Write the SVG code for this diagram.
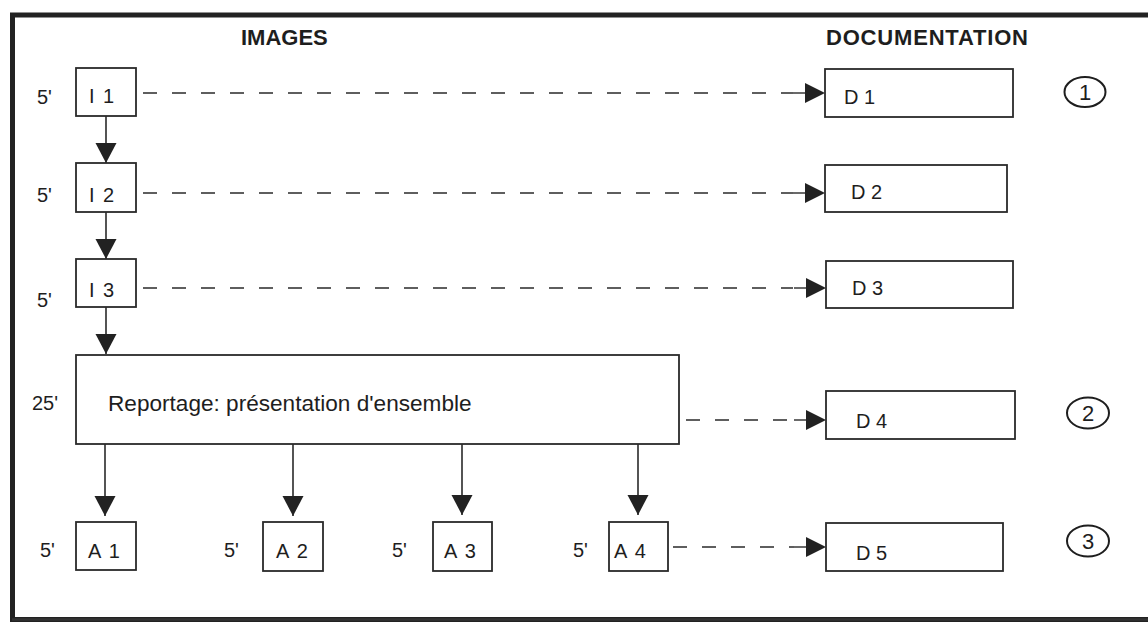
<svg xmlns="http://www.w3.org/2000/svg" width="1148" height="622" viewBox="0 0 1148 622">
<style>
.box{fill:#fff;stroke:#2a2a2a;stroke-width:1.8}
.t{font-family:"Liberation Sans",Arial,sans-serif;font-size:20px;fill:#1e1e1e}
.ls{letter-spacing:1.5px}
.h{font-family:"Liberation Sans",Arial,sans-serif;font-size:22px;font-weight:bold;fill:#1e1e1e}
.solid{stroke:#2a2a2a;stroke-width:1.6;fill:none}
.dash{stroke:#2a2a2a;stroke-width:1.4;fill:none;stroke-dasharray:14 15}
.circ{fill:none;stroke:#1e1e1e;stroke-width:2}
.cn{font-family:"Liberation Sans",Arial,sans-serif;font-size:22px;fill:#1e1e1e;text-anchor:middle}
</style>
<defs>
<marker id="down" markerUnits="userSpaceOnUse" viewBox="-21 -11 22 22" markerWidth="22" markerHeight="22" refX="0" refY="0" orient="auto" overflow="visible">
<path d="M-20,-10.5 L0,0 L-20,10.5 Z" fill="#222"/>
</marker>
<marker id="right" markerUnits="userSpaceOnUse" viewBox="-34 -11 35 22" markerWidth="35" markerHeight="22" refX="0" refY="0" orient="0" overflow="visible">
<path d="M-32,0 H-19" stroke="#2a2a2a" stroke-width="1.4"/>
<path d="M-20,-10 L0,0 L-20,10 Z" fill="#222"/>
</marker>
</defs>
<rect width="1148" height="622" fill="#fff"/>
<path d="M1148,15 H12.5 V619.5 H1148" fill="none" stroke="#222" stroke-width="5"/>
<path d="M12,619.5 H1148" stroke="#333" stroke-width="2.5"/>

<g id="headers">
<text class="h" x="241" y="45">IMAGES</text>
<text class="h" x="826" y="45" textLength="202">DOCUMENTATION</text>
</g>

<g id="connectors">
<line class="solid" x1="106" y1="116" x2="106" y2="163" marker-end="url(#down)"/>
<line class="solid" x1="106" y1="212" x2="106" y2="259" marker-end="url(#down)"/>
<line class="solid" x1="106" y1="307" x2="106" y2="354" marker-end="url(#down)"/>
<line class="solid" x1="105" y1="444" x2="105" y2="516" marker-end="url(#down)"/>
<line class="solid" x1="293" y1="444" x2="293" y2="516" marker-end="url(#down)"/>
<line class="solid" x1="462" y1="444" x2="462" y2="515" marker-end="url(#down)"/>
<line class="solid" x1="638" y1="444" x2="638" y2="515" marker-end="url(#down)"/>
<line class="dash" x1="143" y1="93" x2="793" y2="93"/>
<path d="M825,93 L825,93" marker-end="url(#right)"/>
<line class="dash" x1="143" y1="193" x2="793" y2="193"/>
<path d="M825,193 L825,193" marker-end="url(#right)"/>
<line class="dash" x1="143" y1="288" x2="793" y2="288"/>
<path d="M826,288 L826,288" marker-end="url(#right)"/>
<line class="dash" x1="686" y1="420" x2="794" y2="420"/>
<path d="M826,420 L826,420" marker-end="url(#right)"/>
<line class="dash" x1="673" y1="547" x2="794" y2="547"/>
<path d="M826,547 L826,547" marker-end="url(#right)"/>
</g>

<g id="I1"><rect class="box" x="76" y="68" width="60" height="48"/><text class="t ls" x="89" y="103" xml:space="preserve">I 1</text><text class="t" x="37" y="104">5'</text></g>
<g id="I2"><rect class="box" x="76" y="163" width="60" height="49"/><text class="t ls" x="89" y="202" xml:space="preserve">I 2</text><text class="t" x="37" y="202">5'</text></g>
<g id="I3"><rect class="box" x="76" y="259" width="60" height="48"/><text class="t ls" x="89" y="297" xml:space="preserve">I 3</text><text class="t" x="37" y="307">5'</text></g>
<g id="reportage"><rect class="box" x="76" y="355" width="603" height="89"/><text class="t" x="108" y="411" style="font-size:22.6px">Reportage: présentation d'ensemble</text><text class="t" x="32" y="410">25'</text></g>
<g id="A1"><rect class="box" x="76" y="522" width="60" height="48"/><text class="t ls" x="88" y="558" xml:space="preserve">A 1</text><text class="t" x="40" y="557">5'</text></g>
<g id="A2"><rect class="box" x="263" y="522" width="60" height="49"/><text class="t ls" x="276" y="558" xml:space="preserve">A 2</text><text class="t" x="224" y="557">5'</text></g>
<g id="A3"><rect class="box" x="433" y="522" width="59" height="49"/><text class="t ls" x="444" y="558" xml:space="preserve">A 3</text><text class="t" x="392" y="557">5'</text></g>
<g id="A4"><rect class="box" x="609" y="522" width="59" height="49"/><text class="t ls" x="614" y="558" xml:space="preserve">A 4</text><text class="t" x="573" y="557">5'</text></g>

<g id="D1"><rect class="box" x="825" y="69" width="188" height="48"/><text class="t" x="844" y="104" xml:space="preserve">D 1</text></g>
<g id="D2"><rect class="box" x="825" y="165" width="182" height="47"/><text class="t" x="851" y="199" xml:space="preserve">D 2</text></g>
<g id="D3"><rect class="box" x="826" y="261" width="187" height="47"/><text class="t" x="852" y="295" xml:space="preserve">D 3</text></g>
<g id="D4"><rect class="box" x="826" y="391" width="189" height="48"/><text class="t" x="856" y="428" xml:space="preserve">D 4</text></g>
<g id="D5"><rect class="box" x="826" y="523" width="177" height="48"/><text class="t" x="856" y="560" xml:space="preserve">D 5</text></g>

<g id="c1"><ellipse class="circ" cx="1085" cy="92" rx="20.5" ry="15"/><text class="cn" x="1085" y="100">1</text></g>
<g id="c2"><ellipse class="circ" cx="1088" cy="413" rx="21" ry="15.5"/><text class="cn" x="1088" y="421">2</text></g>
<g id="c3"><ellipse class="circ" cx="1088" cy="541" rx="21" ry="15.5"/><text class="cn" x="1088" y="549">3</text></g>
</svg>
